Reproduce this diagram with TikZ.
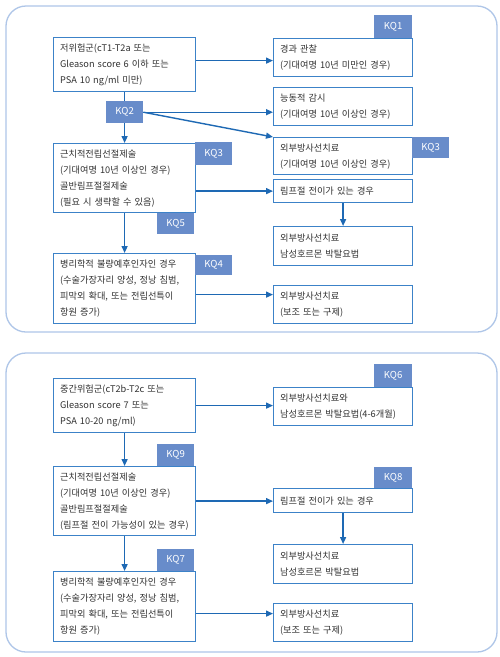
\documentclass[tikz,border=0pt]{standalone}
\usepackage{fontspec}
\newfontfamily\kr{Noto Sans CJK KR}
\usetikzlibrary{arrows.meta,calc}
\definecolor{boxblue}{RGB}{60,130,200}
\definecolor{arrblue}{RGB}{30,105,180}
\definecolor{tagblue}{RGB}{104,140,202}
\definecolor{panelblue}{RGB}{175,198,232}
\definecolor{txtgray}{RGB}{50,50,50}
\tikzset{
  panel/.style={draw=panelblue,line width=1.3pt,rounded corners=20pt},
  lbox/.style={draw=boxblue,line width=1.2pt,fill=white,anchor=north west,
    text width=129pt,inner xsep=6.5pt,inner ysep=2pt,align=left,
    font=\kr\fontsize{9.2}{16}\selectfont,text=txtgray},
  rbox/.style={lbox,text width=126pt},
  tag/.style={fill=tagblue,anchor=north west,inner sep=0pt,
    font=\kr\fontsize{9.6}{10}\selectfont,text=white,align=center},
  arr/.style={draw=arrblue,line width=1.4pt,-{Triangle[length=7pt,width=6pt]}}
}
\begin{document}
\begin{tikzpicture}[x=1pt,y=-1pt]
\useasboundingbox (0,0) rectangle (500,657);
\fill[white] (0,0) rectangle (500,657);
% panels
\draw[panel] (6,6) rectangle (497,332);
\draw[panel] (6,353) rectangle (497,652);

% ---------- top panel ----------
\node[lbox,minimum height=54pt] (A) at (53,37) {저위험군(cT1-T2a 또는\\Gleason score 6 이하 또는\\PSA 10 ng/ml 미만)};
\node[lbox,minimum height=69pt] (B) at (53,143) {근치적전립선절제술\\(기대여명 10년 이상인 경우)\\골반림프절절제술\\(필요 시 생략할 수 있음)};
\node[lbox,minimum height=70pt] (C) at (53,253) {병리학적 불량예후인자인 경우\\(수술가장자리 양성, 정낭 침범,\\피막외 확대, 또는 전립선특이\\항원 증가)};
\node[rbox,minimum height=38pt] (D) at (273,38) {경과 관찰\\(기대여명 10년 미만인 경우)};
\node[rbox,minimum height=38pt] (E) at (273,87) {능동적 감시\\(기대여명 10년 이상인 경우)};
\node[rbox,minimum height=37pt] (F) at (273,137) {외부방사선치료\\(기대여명 10년 이상인 경우)};
\node[rbox,minimum height=23pt] (G) at (273,179) {림프절 전이가 있는 경우};
\node[rbox,minimum height=39pt] (H) at (273,226) {외부방사선치료\\남성호르몬 박탈요법};
\node[rbox,minimum height=38pt] (I) at (273,285) {외부방사선치료\\(보조 또는 구제)};

\draw[arr] ([yshift=4pt]A.east) -- ([yshift=4pt]A.east -| D.west);
\draw[arr] (A.south) -- (B.north);
\draw[arr] (B.east |- G.west) -- (G.west);
\draw[arr] (G.south) -- (H.north);
\draw[arr] (B.south) -- (C.north);
\draw[arr] ([yshift=-6pt]C.east) -- ([yshift=-6pt]C.east -| I.west);

\node[tag,minimum width=37pt,minimum height=22pt] (KQ2) at (106,101) {KQ2};
\draw[arr] (KQ2.east) -- (KQ2.east -| E.west);
\draw[arr] (KQ2.east) -- (F.north west);
\node[tag,minimum width=38pt,minimum height=23pt] (KQ1) at (374,15) {KQ1};
\node[tag,minimum width=37pt,minimum height=23pt] (KQ3a) at (195,142) {KQ3};
\node[tag,minimum width=37pt,minimum height=21pt] (KQ3b) at (412,137) {KQ3};
\node[tag,minimum width=37pt,minimum height=21pt] (KQ5) at (157,213) {KQ5};
\node[tag,minimum width=37pt,minimum height=20pt] (KQ4) at (195,255) {KQ4};

% ---------- bottom panel ----------
\node[lbox,minimum height=54pt] (A2) at (53,378) {중간위험군(cT2b-T2c 또는\\Gleason score 7 또는\\PSA 10-20 ng/ml)};
\node[lbox,minimum height=69pt] (B2) at (53,466) {근치적전립선절제술\\(기대여명 10년 이상인 경우)\\골반림프절절제술\\(림프절 전이 가능성이 있는 경우)};
\node[lbox,minimum height=70pt] (C2) at (53,571) {병리학적 불량예후인자인 경우\\(수술가장자리 양성, 정낭 침범,\\피막외 확대, 또는 전립선특이\\항원 증가)};
\node[rbox,minimum height=38pt] (J) at (273,387) {외부방사선치료와\\남성호르몬 박탈요법(4-6개월)};
\node[rbox,minimum height=24pt] (K) at (273,488) {림프절 전이가 있는 경우};
\node[rbox,minimum height=39pt] (L) at (273,544) {외부방사선치료\\남성호르몬 박탈요법};
\node[rbox,minimum height=38pt] (M) at (273,603) {외부방사선치료\\(보조 또는 구제)};

\draw[arr] (A2.east) -- (A2.east -| J.west);
\draw[arr] (A2.south) -- (B2.north);
\draw[arr] (B2.east) -- (B2.east -| K.west);
\draw[arr] (K.south) -- (L.north);
\draw[arr] (B2.south) -- (C2.north);
\draw[arr] ([yshift=-7pt]C2.east) -- ([yshift=-7pt]C2.east -| M.west);

\node[tag,minimum width=38pt,minimum height=23pt] (KQ6) at (374,364) {KQ6};
\node[tag,minimum width=37pt,minimum height=22pt] (KQ9) at (157,444) {KQ9};
\node[tag,minimum width=38pt,minimum height=21pt] (KQ8) at (374,467) {KQ8};
\node[tag,minimum width=37pt,minimum height=22pt] (KQ7) at (157,549) {KQ7};
\end{tikzpicture}
\end{document}
